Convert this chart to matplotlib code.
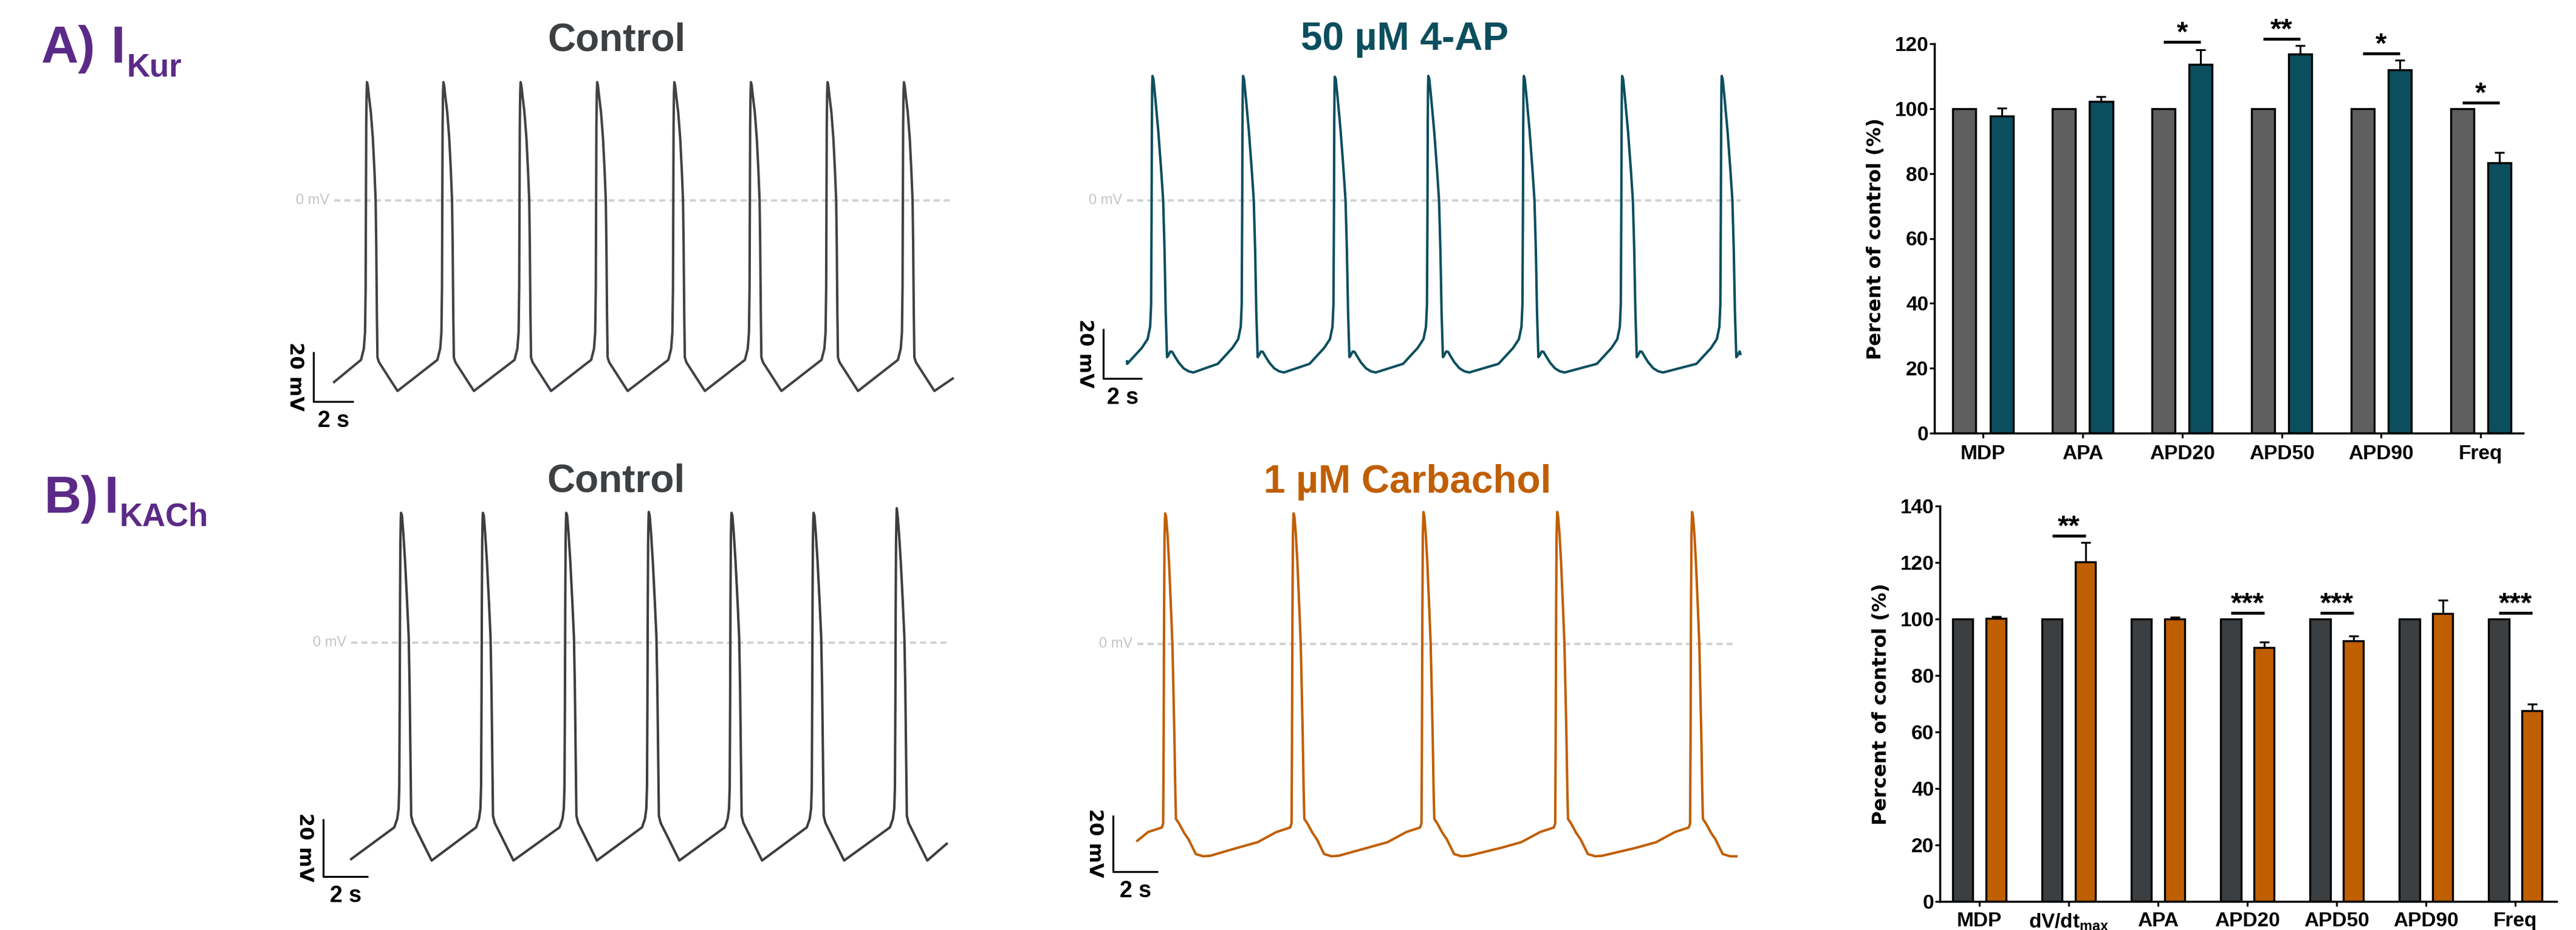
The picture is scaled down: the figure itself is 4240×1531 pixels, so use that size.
import numpy as np
import matplotlib
matplotlib.use('Agg')
import matplotlib.pyplot as plt

plt.rcParams['font.family'] = ['Liberation Sans', 'DejaVu Sans']

W, H = 4240, 1531
DPI = 100

# ---------------- trace data (t in s, V in mV) ----------------
# A) control
a_ctrl_peaks = [1.64, 5.45, 9.30, 13.12, 16.97, 20.79, 24.61, 28.42]
a_ctrl_peak_v = [47.5] * 8
a_ctrl_rise = [(-0.30, -64.0), (-0.16, -59.5), (-0.10, -53.0), (-0.07, -35.0),
               (-0.055, 0.0), (-0.04, 30.0), (-0.02, 43.5)]
a_ctrl_decay = [(0.04, 46.0), (0.10, 41.5), (0.19, 35.5), (0.29, 25.0), (0.37, 12.0),
                (0.43, 0.0), (0.46, -18.0), (0.49, -45.0), (0.52, -63.0), (0.60, -65.0),
                (1.52, -76.5)]
a_ctrl_start = (0.0, -72.9)
a_ctrl_end = (30.85, -71.5)

# A) 50 uM 4-AP
a_drug_peaks = [1.31, 5.97, 10.69, 15.50, 20.41, 25.47, 30.59]
a_drug_peak_v = [50.3, 50.3, 50.0, 50.3, 50.3, 50.3, 50.3]
a_drug_rise = [(-1.30, -66.0), (-0.55, -59.6), (-0.25, -56.0), (-0.12, -51.0),
               (-0.07, -42.0), (-0.045, -5.0), (-0.03, 30.0), (-0.015, 46.0)]
a_drug_decay = [(0.05, 49.0), (0.15, 41.0), (0.30, 28.0), (0.45, 12.0), (0.55, 0.0),
                (0.62, -20.0), (0.68, -45.0), (0.75, -63.3), (0.80, -62.8), (0.92, -61.0),
                (1.02, -61.2), (1.15, -63.0), (1.35, -65.5), (1.60, -67.8), (1.85, -69.0),
                (2.10, -69.5)]
a_drug_start = (0.0, -65.0)
a_drug_end = (31.55, -62.0)

# B) control
b_ctrl_peaks = [2.22, 5.86, 9.57, 13.24, 16.92, 20.57, 24.27]
b_ctrl_peak_v = [45.0, 45.0, 45.0, 45.3, 45.0, 45.0, 46.6]
b_ctrl_rise = [(-0.30, -64.0), (-0.17, -61.0), (-0.11, -57.5), (-0.08, -50.0),
               (-0.06, -20.0), (-0.045, 15.0), (-0.03, 35.0), (-0.012, 43.0)]
b_ctrl_decay = [(0.04, 44.0), (0.10, 38.0), (0.18, 28.0), (0.27, 14.0), (0.34, 2.0),
                (0.38, -15.0), (0.42, -40.0), (0.45, -60.0), (0.53, -62.5), (1.36, -75.5)]
b_ctrl_start = (0.0, -75.0)
b_ctrl_end = (26.49, -69.7)

# B) 1 uM carbachol
b_drug_peaks = [1.24, 6.95, 12.73, 18.68, 24.68]
b_drug_peak_v = [46.2, 46.2, 46.7, 46.7, 46.7]
b_drug_rise = [(-2.50, -72.2), (-1.60, -70.2), (-0.76, -66.6), (-0.15, -65.0),
               (-0.09, -63.5), (-0.07, -35.0), (-0.05, 10.0), (-0.03, 38.0), (-0.012, 44.0)]
b_drug_decay = [(0.04, 45.0), (0.10, 39.0), (0.17, 29.0), (0.26, 12.0), (0.32, 0.0),
                (0.37, -18.0), (0.41, -33.0), (0.45, -52.0), (0.48, -62.0), (0.61, -63.5),
                (0.85, -67.0), (1.04, -69.2), (1.36, -74.4), (1.69, -75.2), (2.01, -75.0)]
b_drug_start = (0.0, -69.7)
b_drug_end = (26.65, -75.2)

# ---------------- bar data (% of control) ----------------
a_cats = ['MDP', 'APA', 'APD20', 'APD50', 'APD90', 'Freq']
a_ctrl_vals = [100, 100, 100, 100, 100, 100]
a_drug_vals = [97.7, 102.2, 113.6, 116.9, 111.9, 83.3]
a_drug_err = [2.4, 1.6, 4.5, 2.6, 3.1, 3.1]
a_sig = [(2, 120.5, '*'), (3, 121.5, '**'), (4, 117.0, '*'), (5, 101.8, '*')]

b_cats = ['MDP', r'dV/dt$_{\mathregular{max}}$', 'APA', 'APD20', 'APD50', 'APD90', 'Freq']
b_ctrl_vals = [100, 100, 100, 100, 100, 100, 100]
b_drug_vals = [100.2, 120.3, 99.9, 90.0, 92.2, 102.0, 67.5]
b_drug_err = [0.6, 6.8, 0.8, 1.8, 1.7, 4.6, 2.3]
b_sig = [(1, 129.4, '**'), (3, 102.1, '***'), (4, 102.1, '***'), (6, 102.1, '***')]

PURPLE = '#5b2a87'
TEAL = '#0b4e5e'
ORANGE = '#c05e02'
GREY_A = '#5f5f5f'
DARK = '#3c3f41'

fig = plt.figure(figsize=(W / DPI, H / DPI), dpi=DPI)


def px_axes(left, top, right, bottom):
    return fig.add_axes([left / W, 1 - bottom / H, (right - left) / W, (bottom - top) / H])


def fig_text(x, y, s, **kw):
    fig.text(x / W, 1 - y / H, s, **kw)


def build_trace(peaks, peak_v, rise, decay, start, end):
    t, v = [start[0]], [start[1]]
    for tp, vp in zip(peaks, peak_v):
        for dt, dv in rise:
            t.append(tp + dt)
            v.append(dv)
        t.append(tp)
        v.append(vp)
        for dt, dv in decay:
            t.append(tp + dt)
            v.append(dv)
    t, v = np.array(t), np.array(v)
    keep = (t > start[0]) & (t < end[0])
    t = np.concatenate([[start[0]], t[keep], [end[0]]])
    v = np.concatenate([[start[1]], v[keep], [end[1]]])
    return t, v


def trace_panel(x0, pps, y0, ppm, trace, color, corner):
    # x0/y0: pixel position of t=0 and 0 mV; pps/ppm: pixels per s and per mV
    left, right, top, bottom = x0 - 160, x0 + 1060, y0 - 270, y0 + 430
    ax = px_axes(left, top, right, bottom)
    ax.set_xlim((left - x0) / pps, (right - x0) / pps)
    ax.set_ylim((y0 - bottom) / ppm, (y0 - top) / ppm)
    ax.axis('off')
    t, v = trace
    # 0 mV reference
    ax.plot([t[0], t[-1]], [0, 0], color='#d2d2d2', lw=2.8,
            linestyle=(0, (2.6, 1.7)), zorder=1)
    ax.annotate('0 mV', (t[0], 0), xytext=(-6, 0), textcoords='offset points',
                ha='right', va='center', fontsize=17, color='#c4c4c4')
    ax.plot(t, v, color=color, lw=2.9, solid_joinstyle='round', zorder=2, clip_on=False)
    # scale bar 20 mV / 2 s
    cx, cy = corner
    ax.plot([cx, cx, cx + 2.0], [cy + 20.0, cy, cy], color='black', lw=2.3,
            solid_capstyle='butt', clip_on=False)
    ax.annotate('20 mV', (cx, cy + 10.0), xytext=(-22, 0), textcoords='offset points',
                ha='center', va='center', rotation=270, fontsize=23,
                fontweight='bold', family='DejaVu Sans')
    ax.annotate('2 s', (cx + 1.0, cy), xytext=(0, -23), textcoords='offset points',
                ha='center', va='center', fontsize=27, fontweight='bold')
    return ax


def bar_panel(left, top, right, bottom, cats, ctrl, drug, err, c_ctrl, c_drug, sig,
              ymax, xlim, offset, width, xpad):
    ax = px_axes(left, top, right, bottom)
    x = np.arange(len(cats))
    ax.bar(x - offset, ctrl, width, color=c_ctrl, edgecolor='black', linewidth=2.4, zorder=2)
    ax.bar(x + offset, drug, width, color=c_drug, edgecolor='black', linewidth=2.4, zorder=2)
    ax.errorbar(x + offset, drug, yerr=[np.zeros(len(err)), err], fmt='none',
                ecolor='black', elinewidth=2.2, capsize=6, capthick=2.2, zorder=1)
    for i, y, stars in sig:
        ax.plot([i - offset, i + offset], [y, y], color='black', lw=3.4,
                solid_capstyle='butt', clip_on=False)
        ax.annotate(stars, (i, y), xytext=(0, 1), textcoords='offset points',
                    ha='center', va='baseline', fontsize=34, fontweight='bold',
                    annotation_clip=False)
    ax.set_xlim(*xlim)
    ax.set_ylim(0, ymax)
    ax.set_yticks(np.arange(0, ymax + 1, 20))
    ax.set_xticks(x)
    ax.set_xticklabels(cats)
    for s in ['top', 'right']:
        ax.spines[s].set_visible(False)
    for s in ['left', 'bottom']:
        ax.spines[s].set_linewidth(2.5)
    ax.tick_params(axis='both', direction='out', length=6, width=2.2, labelsize=24)
    ax.tick_params(axis='y', pad=1)
    ax.tick_params(axis='x', pad=xpad)
    for lbl in ax.get_xticklabels() + ax.get_yticklabels():
        lbl.set_fontweight('bold')
    ax.set_ylabel('Percent of control (%)', fontsize=23, fontweight='bold',
                  family='DejaVu Sans', va='center')
    ax.yaxis.set_label_coords(-97 / (right - left), 0.5)
    return ax


# ---------------- row A ----------------
fig_text(68, 103, 'A)', fontsize=61, fontweight='bold', color=PURPLE, va='baseline')
fig_text(182, 103, 'I', fontsize=61, fontweight='bold', color=PURPLE, va='baseline')
fig_text(208, 125, 'Kur', fontsize=38, fontweight='bold', color=PURPLE, va='baseline')

fig_text(1015, 83, 'Control', fontsize=46, fontweight='bold', color='#3d4042',
         ha='center', va='baseline')
fig_text(2312, 82, '50 µM 4-AP', fontsize=46, fontweight='bold', color=TEAL,
         ha='center', va='baseline')

trace_panel(550, 33.0, 330, 4.1,
            build_trace(a_ctrl_peaks, a_ctrl_peak_v, a_ctrl_rise, a_ctrl_decay,
                        a_ctrl_start, a_ctrl_end),
            '#404346', (-1.03, -80.7))
trace_panel(1855, 32.0, 330, 4.075,
            build_trace(a_drug_peaks, a_drug_peak_v, a_drug_rise, a_drug_decay,
                        a_drug_start, a_drug_end),
            TEAL, (-1.22, -71.9))

bar_panel(3184, 72, 4153, 713, a_cats, a_ctrl_vals, a_drug_vals, a_drug_err,
          GREY_A, TEAL, a_sig, 120, (-0.488, 5.425), 0.187, 0.233, 8)

# ---------------- row B ----------------
fig_text(72, 844, 'B)', fontsize=61, fontweight='bold', color=PURPLE, va='baseline')
fig_text(171, 844, 'I', fontsize=61, fontweight='bold', color=PURPLE, va='baseline')
fig_text(196, 866, 'KACh', fontsize=38, fontweight='bold', color=PURPLE, va='baseline')

fig_text(1014, 809, 'Control', fontsize=46, fontweight='bold', color='#3d4042',
         ha='center', va='baseline')
fig_text(2317, 811, '1 µM Carbachol', fontsize=46, fontweight='bold', color=ORANGE,
         ha='center', va='baseline')

trace_panel(578, 37.0, 1058, 4.75,
            build_trace(b_ctrl_peaks, b_ctrl_peak_v, b_ctrl_rise, b_ctrl_decay,
                        b_ctrl_start, b_ctrl_end),
            DARK, (-1.24, -81.0))
trace_panel(1872, 37.0, 1060, 4.65,
            build_trace(b_drug_peaks, b_drug_peak_v, b_drug_rise, b_drug_decay,
                        b_drug_start, b_drug_end),
            ORANGE, (-1.08, -80.6))

bar_panel(3193, 833, 4208, 1484, b_cats, b_ctrl_vals, b_drug_vals, b_drug_err,
          DARK, ORANGE, b_sig, 140, (-0.443, 6.46), 0.1865, 0.227, 6.5)

fig.savefig('out.png', dpi=DPI)
